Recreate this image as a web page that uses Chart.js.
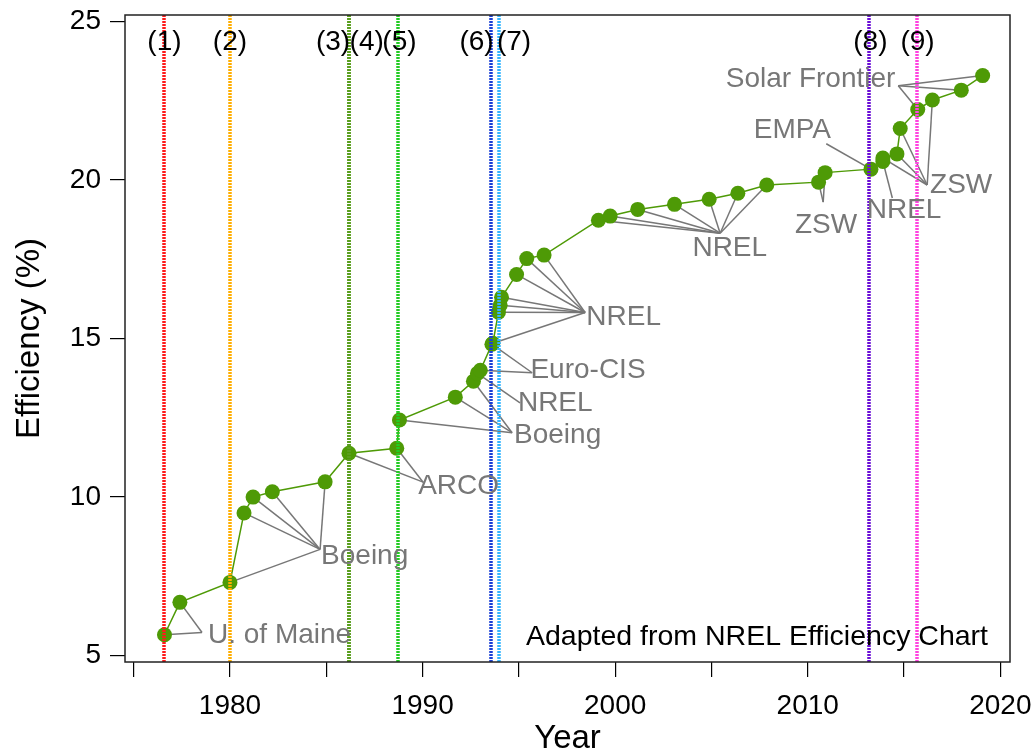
<!DOCTYPE html>
<html>
<head>
<meta charset="utf-8">
<script src="https://cdn.jsdelivr.net/npm/chart.js@4/dist/chart.umd.min.js"></script>
<style>
html, body { margin: 0; padding: 0; background: #fff; }
</style>
</head>
<body>
<canvas id="chart" width="1036" height="753"></canvas>
<script>
// record cells, in time order
const years = [1976.6, 1977.4, 1980.0, 1980.73, 1981.2, 1982.2, 1984.94, 1986.18, 1988.66, 1988.8,
               1991.7, 1992.64, 1992.85, 1993.0, 1993.6, 1993.65, 1993.94, 1994.03, 1994.1, 1994.88,
               1995.41, 1996.31, 1999.13, 1999.74, 2001.17, 2003.08, 2004.88, 2006.37, 2007.87, 2010.56,
               2010.9, 2013.28, 2013.9, 2013.9, 2014.63, 2014.8, 2015.71, 2016.47, 2017.97, 2019.08];
const effs = [5.66, 6.68, 7.31, 9.5, 10.0, 10.17, 10.48, 11.38, 11.54, 12.43,
              13.15, 13.65, 13.9, 14.0, 14.82, 14.85, 15.83, 16.05, 16.3, 17.02,
              17.52, 17.63, 18.73, 18.86, 19.07, 19.23, 19.39, 19.58, 19.84, 19.93,
              20.23, 20.34, 20.58, 20.69, 20.82, 21.62, 22.22, 22.52, 22.83, 23.29];

// who made them (label text, label spot, leader-line hub, which points)
const groupNames   = ['U. of Maine', 'Boeing', 'ARCO', 'Boeing', 'NREL', 'Euro-CIS', 'NREL', 'NREL', 'ZSW', 'EMPA', 'NREL', 'ZSW', 'Solar Frontier'];
const groupTextX   = [1978.86, 1984.73, 1989.77, 1994.75, 1994.95, 1995.6, 1998.5, 2005.95, 2010.95, 2009.2, 2015.0, 2016.35, 2014.55];
const groupTextY   = [5.63, 8.13, 10.35, 11.96, 12.97, 13.99, 15.66, 17.85, 18.58, 21.58, 19.05, 19.84, 23.16];
const groupAlign   = ['left', 'left', 'left', 'left', 'left', 'left', 'left', 'center', 'center', 'center', 'center', 'left', 'right'];
const hubX         = [1978.55, 1984.68, 1990.03, 1994.65, 1995.06, 1995.69, 1998.44, 2005.45, 2010.8, 2010.96, 2014.39, 2016.2, 2014.7];
const hubY         = [5.73, 8.35, 10.47, 12.03, 12.97, 13.92, 15.82, 18.32, 19.3, 21.14, 19.43, 19.84, 22.97];
const groupPoints  = [[0, 1], [2, 3, 4, 5, 6], [7, 8], [9, 10, 11], [12], [13, 14],
                      [15, 16, 17, 18, 19, 20, 21], [22, 23, 24, 25, 26, 27, 28], [29, 30], [31], [32],
                      [33, 34, 35, 37], [36, 38, 39]];

// numbered milestones
const markNames  = ['(1)', '(2)', '(3)', '(4)', '(5)', '(6)', '(7)', '(8)', '(9)'];
const markYears  = [1976.6, 1980.0, 1986.18, 1986.18, 1988.75, 1993.54, 1993.97, 2013.2, 2015.65];
const markTextX  = [1976.6, 1980.0, 1985.35, 1987.1, 1988.8, 1992.8, 1994.75, 2013.25, 2015.7];
const markColors = ['#ff1a1a', '#ffae00', '#5a9e1e', '#5a9e1e', '#22cc22', '#1a3fd6', '#33b5ff', '#6a0dd6', '#ff44e0'];

const yTicks = [5, 10, 15, 20, 25];
const xLabelled = [1980, 1990, 2000, 2010, 2020];

const FONT = 'Liberation Sans, Arial, sans-serif';
const green = '#4e9a06';

const decor = {
    id: 'decor',
    beforeDatasetsDraw(chart) {
        const ctx = chart.ctx, x = chart.scales.x, y = chart.scales.y;
        ctx.save();
        ctx.strokeStyle = '#777';
        ctx.lineWidth = 1.5;
        for (let i = 0; i < groupNames.length; i++) {
            const hx = x.getPixelForValue(hubX[i]);
            const hy = y.getPixelForValue(hubY[i]);
            for (const p of groupPoints[i]) {
                ctx.beginPath();
                ctx.moveTo(hx, hy);
                ctx.lineTo(x.getPixelForValue(years[p]), y.getPixelForValue(effs[p]));
                ctx.stroke();
            }
        }
        ctx.restore();
    },
    afterDatasetsDraw(chart) {
        const ctx = chart.ctx, x = chart.scales.x, y = chart.scales.y;
        const area = chart.chartArea;
        ctx.save();
        // dashed milestone lines, on top of the points
        ctx.lineWidth = 3.5;
        ctx.setLineDash([2, 1]);
        for (let i = 0; i < markYears.length; i++) {
            const px = Math.round(x.getPixelForValue(markYears[i]));
            ctx.strokeStyle = markColors[i];
            ctx.beginPath();
            ctx.moveTo(px, area.top);
            ctx.lineTo(px, area.bottom);
            ctx.stroke();
        }
        ctx.setLineDash([]);
        // milestone numbers
        ctx.font = '28px ' + FONT;
        ctx.fillStyle = '#000';
        ctx.textAlign = 'center';
        ctx.textBaseline = 'middle';
        for (let i = 0; i < markNames.length; i++) {
            ctx.fillText(markNames[i], x.getPixelForValue(markTextX[i]), y.getPixelForValue(24.33));
        }
        // group labels
        ctx.fillStyle = '#777';
        for (let i = 0; i < groupNames.length; i++) {
            ctx.textAlign = groupAlign[i];
            ctx.fillText(groupNames[i], x.getPixelForValue(groupTextX[i]), y.getPixelForValue(groupTextY[i]));
        }
        // credit
        ctx.fillStyle = '#000';
        ctx.font = '28.5px ' + FONT;
        ctx.textAlign = 'right';
        ctx.fillText('Adapted from NREL Efficiency Chart', area.right - 22, area.bottom - 25);
        // box
        ctx.strokeStyle = '#222';
        ctx.lineWidth = 1.5;
        ctx.strokeRect(area.left, area.top, area.right - area.left, area.bottom - area.top);
        ctx.restore();
    }
};

const points = years.map((yr, i) => ({x: yr, y: effs[i]}));

new Chart(document.getElementById('chart'), {
    type: 'line',
    data: {
        datasets: [{
            data: points,
            borderColor: green,
            borderWidth: 1.5,
            backgroundColor: green,
            pointBackgroundColor: green,
            pointBorderColor: green,
            pointRadius: 7.5,
            pointBorderWidth: 0,
            tension: 0,
        }]
    },
    options: {
        responsive: false,
        animation: false,
        devicePixelRatio: 1,
        layout: { padding: { top: 15, right: 26, left: 0, bottom: 0 } },
        plugins: {
            legend: { display: false },
            tooltip: { enabled: false },
        },
        scales: {
            x: {
                type: 'linear',
                min: 1974.55,
                max: 2020.5,
                afterFit: s => { s.height = 91; s.paddingLeft = 0; s.paddingRight = 0; },
                grid: { drawOnChartArea: false, tickLength: 15, color: '#000', lineWidth: 1.2 },
                border: { display: false },
                ticks: {
                    stepSize: 5,
                    includeBounds: false,
                    autoSkip: false,
                    maxRotation: 0,
                    padding: 12,
                    color: '#000',
                    font: { size: 28, family: FONT },
                    callback: v => xLabelled.includes(v) ? String(v) : '',
                },
                title: { display: true, text: 'Year', color: '#000', font: { size: 33, family: FONT, lineHeight: 1 }, padding: { top: 0, bottom: -2 } },
            },
            y: {
                min: 4.8,
                max: 25.2,
                afterFit: s => { s.width = 125; s.paddingTop = 0; s.paddingBottom = 0; },
                afterBuildTicks: s => { s.ticks = yTicks.map(v => ({value: v})); },
                grid: { drawOnChartArea: false, tickLength: 15, color: '#000', lineWidth: 1.2 },
                border: { display: false },
                ticks: {
                    padding: 9,
                    color: '#000',
                    font: { size: 28, family: FONT },
                },
                title: { display: true, text: 'Efficiency (%)', color: '#000', font: { size: 33, family: FONT, lineHeight: 1 }, padding: { top: 13, bottom: 0 } },
            },
        },
    },
    plugins: [decor],
});
</script>
</body>
</html>
